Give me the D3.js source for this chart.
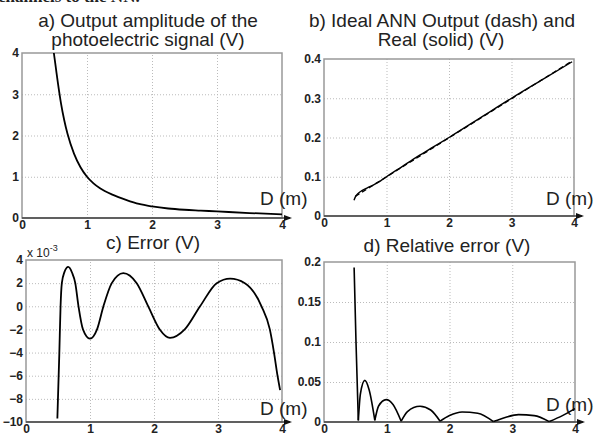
<!DOCTYPE html>
<html>
<head>
<meta charset="utf-8">
<script src="https://d3js.org/d3.v7.min.js"></script>
<style>
  body { margin: 0; background: #fff; }
  svg { display: block; font-family: "Liberation Sans", Arial, sans-serif; }
  .tick text { font-size: 12px; font-weight: bold; fill: #222; }
  .grid line { stroke: #bbb; stroke-dasharray: 1,2; }
  .grid path { display: none; }
</style>
</head>
<body>
<script>
// panel a) output amplitude vs distance
var aD = [0.49, 0.52, 0.55, 0.6, 0.65, 0.7, 0.8, 0.9, 1.0, 1.1, 1.2, 1.4, 1.6, 1.8, 2.0, 2.25, 2.5, 2.75, 3.0, 3.5, 4.0];
var aV = [4.0, 3.65, 3.3, 2.78, 2.37, 2.04, 1.56, 1.23, 1.0, 0.84, 0.72, 0.56, 0.44, 0.34, 0.28, 0.23, 0.2, 0.18, 0.16, 0.12, 0.09];

// panel b) ideal (dash) and real (solid) ANN output
var bD = [0.48, 0.5, 0.55, 0.6, 0.7, 0.8, 0.9, 1.0, 1.25, 1.5, 1.75, 2.0, 2.5, 3.0, 3.5, 3.97];
var bReal = [0.040, 0.048, 0.058, 0.064, 0.072, 0.080, 0.089, 0.100, 0.126, 0.152, 0.176, 0.200, 0.250, 0.300, 0.348, 0.393];
var bIdealD = [0.5, 3.97];
var bIdeal = [0.05, 0.395];

// panel c) error, in units of 1e-3 V
var cD = [0.49, 0.52, 0.54, 0.56, 0.6, 0.66, 0.72, 0.77, 0.82, 0.89, 1.0, 1.11, 1.21, 1.34, 1.52, 1.73, 1.91, 2.09, 2.25, 2.48, 2.72, 2.98, 3.19, 3.42, 3.68, 3.81, 3.875, 3.93, 3.97];
var cE = [-9.7, -4.2, 0, 2.0, 2.95, 3.4, 2.9, 2.0, 0, -2.0, -2.8, -2.0, 0, 2.0, 2.87, 2.0, 0, -2.0, -2.73, -2.0, 0, 2.0, 2.39, 2.0, 0, -2.0, -4.0, -6.0, -7.24];

// panel d) relative error
var dD = [0.48, 0.51, 0.547, 0.58, 0.65, 0.72, 0.81, 0.87, 0.99, 1.1, 1.23, 1.33, 1.53, 1.7, 1.85, 2.0, 2.2, 2.45, 2.7, 2.9, 3.1, 3.35, 3.59, 3.8, 4.0];
var dR = [0.193, 0.1, 0.002, 0.035, 0.052, 0.04, 0.002, 0.02, 0.028, 0.022, 0.001, 0.013, 0.0196, 0.015, 0.001, 0.008, 0.0125, 0.011, 0.0005, 0.006, 0.0092, 0.008, 0.0005, 0.008, 0.0167];

// tick labels
var xTicks = [0, 1, 2, 3, 4];
var aTicks = [0, 1, 2, 3, 4];
var bTicks = [0, 0.1, 0.2, 0.3, 0.4];
var cTicks = [-10, -8, -6, -4, -2, 0, 2, 4];
var dTicks = [0, 0.05, 0.1, 0.15, 0.2];

var svg = d3.select("body").append("svg")
    .attr("width", 600)
    .attr("height", 433);

// cut-off line of text from the page above the figure
svg.append("text")
    .attr("x", -2).attr("y", 2)
    .style("font-family", "'Liberation Serif', serif")
    .style("font-weight", "bold")
    .style("font-size", "17px")
    .attr("fill", "#222")
    .text("channels to the NN.");

function panel(p) {
    var x = d3.scaleLinear().domain([0, 4]).range([p.x0, p.x1]);
    var y = d3.scaleLinear().domain(p.yDomain).range([p.y1, p.y0]);
    var g = svg.append("g");

    // dotted grid
    g.append("g").attr("class", "grid")
        .attr("transform", "translate(0," + p.y1 + ")")
        .call(d3.axisBottom(x).tickValues([1, 2, 3]).tickSize(-(p.y1 - p.y0)).tickFormat(""));
    g.append("g").attr("class", "grid")
        .attr("transform", "translate(" + p.x0 + ",0)")
        .call(d3.axisLeft(y).tickValues(p.yTicks.slice(1, -1)).tickSize(-(p.x1 - p.x0)).tickFormat(""));

    // box
    g.append("rect")
        .attr("x", p.x0).attr("y", p.y0)
        .attr("width", p.x1 - p.x0).attr("height", p.y1 - p.y0)
        .attr("fill", "none").attr("stroke", "#999").attr("stroke-width", 1.5);

    // axes labels
    var xa = g.append("g")
        .attr("transform", "translate(0," + p.y1 + ")")
        .call(d3.axisBottom(x).tickValues(xTicks).tickSize(0).tickPadding(2).tickFormat(d3.format("d")));
    xa.select(".domain").remove();
    var ya = g.append("g")
        .attr("transform", "translate(" + p.x0 + ",0)")
        .call(d3.axisLeft(y).tickValues(p.yTicks).tickSize(0).tickPadding(3).tickFormat(p.fmt));
    ya.select(".domain").remove();

    // bottom axis with arrow
    g.append("line")
        .attr("x1", p.x0).attr("x2", p.x1 + 8)
        .attr("y1", p.y1).attr("y2", p.y1)
        .attr("stroke", "#444").attr("stroke-width", 1.5);
    g.append("path")
        .attr("d", "M" + (p.x1 + 2) + "," + (p.y1 - 3) + "L" + (p.x1 + 10) + "," + p.y1 + "L" + (p.x1 + 2) + "," + (p.y1 + 3) + "Z")
        .attr("fill", "#111");

    g.append("text")
        .attr("x", p.dx).attr("y", p.dy)
        .style("font-size", "19px")
        .attr("fill", "#222")
        .text("D (m)");

    p.titles.forEach(function (t) {
        g.append("text")
            .attr("x", t[0]).attr("y", t[1])
            .attr("text-anchor", "middle")
            .style("font-size", "19px")
            .attr("fill", "#222")
            .text(t[2]);
    });

    return { g: g, x: x, y: y };
}

function drawLine(P, xs, ys, opts) {
    var pts = xs.map(function (d, i) { return [d, ys[i]]; });
    var line = d3.line()
        .x(function (d) { return P.x(d[0]); })
        .y(function (d) { return P.y(d[1]); })
        .curve(opts.curve || d3.curveMonotoneX);
    var segs = [pts];
    if (opts.split) {
        // break at the near-zero cusps so each arch keeps its own slopes
        segs = [];
        var cur = [];
        pts.forEach(function (d, i) {
            cur.push(d);
            if (i > 0 && i < pts.length - 1 && d[1] < 0.003) {
                segs.push(cur);
                cur = [d];
            }
        });
        segs.push(cur);
    }
    segs.forEach(function (s) {
        P.g.append("path")
            .datum(s)
            .attr("d", line)
            .attr("fill", "none")
            .attr("stroke", "#000")
            .attr("stroke-width", opts.width || 1.8)
            .attr("stroke-dasharray", opts.dash || null);
    });
}

var A = panel({
    x0: 22, x1: 282, y0: 53, y1: 218,
    yDomain: [0, 4], yTicks: aTicks, fmt: d3.format("d"),
    dx: 260, dy: 205,
    titles: [[148, 27, "a) Output amplitude of the"], [148, 46, "photoelectric signal (V)"]]
});
drawLine(A, aD, aV, {});

var B = panel({
    x0: 324, x1: 574, y0: 59, y1: 216,
    yDomain: [0, 0.4], yTicks: bTicks, fmt: function (d) { return d === 0 ? "0" : d3.format(".1f")(d); },
    dx: 546, dy: 205,
    titles: [[442, 27, "b) Ideal ANN Output (dash) and"], [441, 46, "Real (solid) (V)"]]
});
drawLine(B, bIdealD, bIdeal, { curve: d3.curveLinear, dash: "5,3", width: 1.3 });
drawLine(B, bD, bReal, { width: 1.4 });

var C = panel({
    x0: 26, x1: 282, y0: 260, y1: 422,
    yDomain: [-10, 4], yTicks: cTicks, fmt: d3.format("d"),
    dx: 260, dy: 415,
    titles: [[153, 249, "c) Error (V)"]]
});
drawLine(C, cD, cE, {});
var ex = C.g.append("text").attr("x", 27).attr("y", 257).style("font-size", "12px").attr("fill", "#222");
ex.append("tspan").text("x 10");
ex.append("tspan").attr("dy", -6).style("font-size", "9px").text("-3");

var Dp = panel({
    x0: 324, x1: 575, y0: 262, y1: 422,
    yDomain: [0, 0.2], yTicks: dTicks, fmt: function (d) { return d === 0 ? "0" : String(d); },
    dx: 546, dy: 411,
    titles: [[447, 252, "d) Relative error (V)"]]
});
drawLine(Dp, dD, dR, { split: true, width: 1.6 });
</script>
</body>
</html>
